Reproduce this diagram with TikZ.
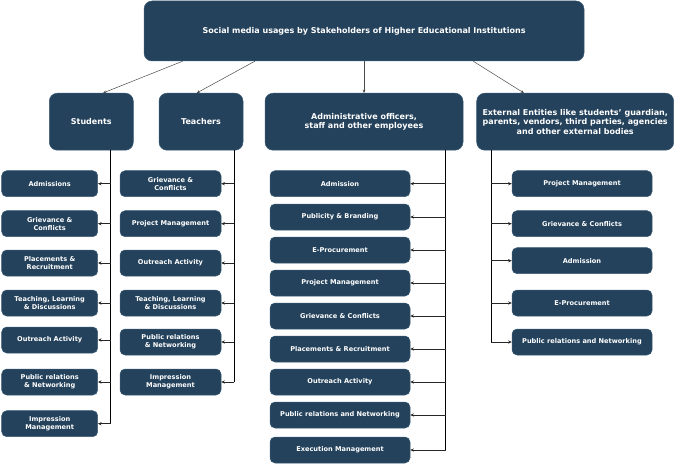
\documentclass[tikz,border=0pt]{standalone}
\usepackage{fontspec}
\setmainfont{DejaVu Sans}
\usetikzlibrary{arrows.meta,calc}
\definecolor{navy}{HTML}{24425C}
\definecolor{edge}{HTML}{3A5A75}
\definecolor{linegray}{HTML}{4A4A4A}
\tikzset{
  head/.style={rounded corners=8pt,draw=edge,fill=navy,line width=0.5pt,text=white,font=\bfseries\fontsize{8}{9.6}\selectfont,align=center,inner sep=0pt},
  item/.style={rounded corners=5pt,draw=edge,fill=navy,line width=0.5pt,text=white,font=\bfseries\fontsize{6.6}{8.3}\selectfont,align=center,inner sep=0pt,minimum height=26pt},
  stuitem/.style={item,minimum width=96pt},
  teaitem/.style={item,minimum width=101pt},
  wideitem/.style={item,minimum width=140pt},
  arrtop/.style={-{Stealth[length=3.2pt,width=2.8pt]},draw=linegray,line width=0.5pt},
  trunk/.style={draw=black,line width=0.9pt},
  arrbranch/.style={-{Stealth[length=3.6pt,width=3.2pt]},draw=black!85,line width=0.8pt}
}

\begin{document}
\begin{tikzpicture}[x=1pt,y=-1pt]
\path[use as bounding box] (0,0) rectangle (676,465);
% top level
\node[head,minimum width=440pt,minimum height=60pt] (title) at (364,31) {Social media usages by Stakeholders of Higher Educational Institutions};
\node[head,minimum width=84pt,minimum height=57pt] (stu) at (91.3,121.7) {Students};
\node[head,minimum width=84pt,minimum height=57pt] (tea) at (201,121.7) {Teachers};
\node[head,minimum width=198pt,minimum height=57pt] (adm) at (364,121.7) {Administrative officers,\\staff and other employees};
\node[head,minimum width=197pt,minimum height=57pt] (ext) at (575.2,121.7) {External Entities like students' guardian,\\parents, vendors, third parties, agencies\\and other external bodies};
\draw[arrtop] ($(title.south west)!0.088!(title.south east)$) -- ($(stu.north west)!0.64!(stu.north east)$);
\draw[arrtop] ($(title.south west)!0.252!(title.south east)$) -- ($(tea.north west)!0.45!(tea.north east)$);
\draw[arrtop] (title.south) -- (adm.north);
\draw[arrtop] ($(title.south west)!0.748!(title.south east)$) -- ($(ext.north west)!0.24!(ext.north east)$);
% students
\node[stuitem] (s1) at (49.7,183.7) {Admissions}; \node[stuitem] (s2) at (49.7,223.7) {Grievance \&\\Conflicts}; \node[stuitem] (s3) at (49.7,263) {Placements \&\\Recruitment};
\node[stuitem] (s4) at (49.7,303) {Teaching, Learning\\\& Discussions}; \node[stuitem] (s5) at (49.7,340) {Outreach Activity}; \node[stuitem] (s6) at (49.7,382) {Public relations\\\& Networking};
\node[stuitem] (s7) at (49.7,423.7) {Impression\\Management};
\coordinate (stop) at ($(stu.south)+(19.4,0)$);
\draw[trunk] (stop) -- (stop |- s7.east);
\draw[arrbranch] (stop |- s1.east) -- (s1.east); \draw[arrbranch] (stop |- s2.east) -- (s2.east); \draw[arrbranch] (stop |- s3.east) -- (s3.east); \draw[arrbranch] (stop |- s4.east) -- (s4.east);
\draw[arrbranch] (stop |- s5.east) -- (s5.east); \draw[arrbranch] (stop |- s6.east) -- (s6.east); \draw[arrbranch] (stop |- s7.east) -- (s7.east);
% teachers
\node[teaitem] (t1) at (170.5,183.7) {Grievance \&\\Conflicts}; \node[teaitem] (t2) at (170.5,223.7) {Project Management}; \node[teaitem] (t3) at (170.5,263) {Outreach Activity};
\node[teaitem] (t4) at (170.5,303) {Teaching, Learning\\\& Discussions}; \node[teaitem] (t5) at (170.5,342) {Public relations\\\& Networking}; \node[teaitem] (t6) at (170.5,382) {Impression\\Management};
\coordinate (ttop) at ($(tea.south)+(33.3,0)$);
\draw[trunk] (ttop) -- (ttop |- t6.east);
\draw[arrbranch] (ttop |- t1.east) -- (t1.east); \draw[arrbranch] (ttop |- t2.east) -- (t2.east); \draw[arrbranch] (ttop |- t3.east) -- (t3.east);
\draw[arrbranch] (ttop |- t4.east) -- (t4.east); \draw[arrbranch] (ttop |- t5.east) -- (t5.east); \draw[arrbranch] (ttop |- t6.east) -- (t6.east);
% administrative staff
\node[wideitem] (a1) at (340,183.7) {Admission}; \node[wideitem] (a2) at (340,217) {Publicity \& Branding}; \node[wideitem] (a3) at (340,250) {E-Procurement};
\node[wideitem] (a4) at (340,283) {Project Management}; \node[wideitem] (a5) at (340,316) {Grievance \& Conflicts}; \node[wideitem] (a6) at (340,349) {Placements \& Recruitment};
\node[wideitem] (a7) at (340,382) {Outreach Activity}; \node[wideitem] (a8) at (340,415) {Public relations and Networking}; \node[wideitem] (a9) at (340,450) {Execution Management};
\coordinate (atop) at ($(adm.south)+(81.7,0)$);
\draw[trunk] (atop) -- (atop |- a9.east);
\draw[arrbranch] (atop |- a1.east) -- (a1.east); \draw[arrbranch] (atop |- a2.east) -- (a2.east); \draw[arrbranch] (atop |- a3.east) -- (a3.east);
\draw[arrbranch] (atop |- a4.east) -- (a4.east); \draw[arrbranch] (atop |- a5.east) -- (a5.east); \draw[arrbranch] (atop |- a6.east) -- (a6.east);
\draw[arrbranch] (atop |- a7.east) -- (a7.east); \draw[arrbranch] (atop |- a8.east) -- (a8.east); \draw[arrbranch] (atop |- a9.east) -- (a9.east);
% external entities
\node[wideitem] (e1) at (582,183.7) {Project Management}; \node[wideitem] (e2) at (582,223.7) {Grievance \& Conflicts}; \node[wideitem] (e3) at (582,260.7) {Admission};
\node[wideitem] (e4) at (582,303) {E-Procurement}; \node[wideitem] (e5) at (582,342) {Public relations and Networking};
\coordinate (etop) at ($(ext.south)+(-84.2,0)$);
\draw[trunk] (etop) -- (etop |- e5.west);
\draw[arrbranch] (etop |- e1.west) -- (e1.west); \draw[arrbranch] (etop |- e2.west) -- (e2.west); \draw[arrbranch] (etop |- e3.west) -- (e3.west);
\draw[arrbranch] (etop |- e4.west) -- (e4.west); \draw[arrbranch] (etop |- e5.west) -- (e5.west);
\end{tikzpicture}
\end{document}
